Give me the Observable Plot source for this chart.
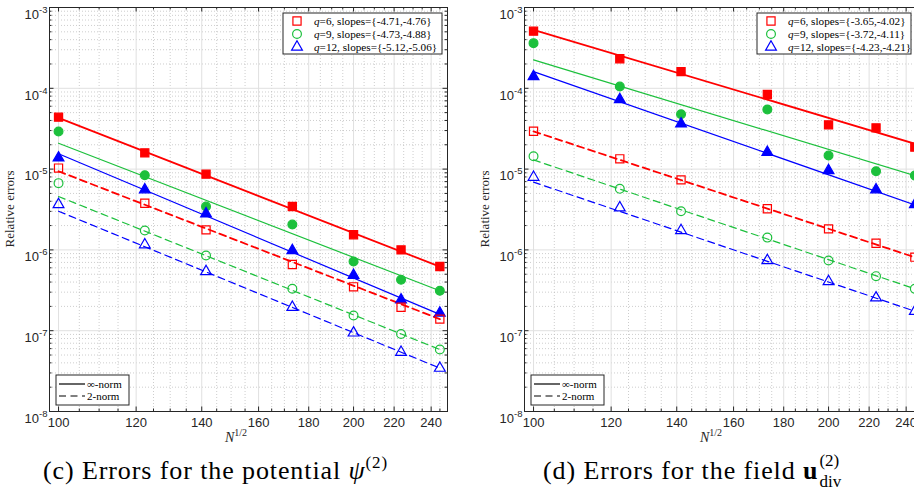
<!DOCTYPE html>
<html><head><meta charset="utf-8">
<script src="https://cdn.jsdelivr.net/npm/d3@7"></script>
<script src="https://cdn.jsdelivr.net/npm/@observablehq/plot@0.6"></script>
<style>
body{margin:0;background:#fff;}
#wrap{position:relative;width:914px;height:497px;overflow:hidden;background:#fff;}
.panel{position:absolute;top:0;}
#overlay{position:absolute;left:0;top:0;pointer-events:none;}
</style></head><body><div id="wrap"></div><script>
// x values: N^{1/2}
const N = [100, 122.47, 141.42, 173.21, 200, 223.61, 244.95];
const fitN = [100, 244.95];
const xMajor = [100, 120, 140, 160, 180, 200, 220, 240];
const xMinor = [105, 110, 115, 125, 130, 135, 145, 150, 155, 165, 170, 175, 185, 190, 195, 205, 210, 215, 225, 230, 235, 245];
const yMajor = [1e-8, 1e-7, 1e-6, 1e-5, 1e-4, 1e-3];
const yMinor = [];
for (const d of [1e-8, 1e-7, 1e-6, 1e-5, 1e-4]) for (let k = 2; k <= 9; k++) yMinor.push(d * k);

// panel (c): errors for the potential
const cInf6  = [4.39e-5, 1.59e-5, 8.65e-6, 3.44e-6, 1.54e-6, 1.0e-6, 6.23e-7];
const cInf9  = [2.92e-5, 8.41e-6, 3.44e-6, 2.06e-6, 7.18e-7, 4.27e-7, 3.12e-7];
const cInf12 = [1.38e-5, 5.55e-6, 2.8e-6, 9.84e-7, 4.86e-7, 2.41e-7, 1.66e-7];
const cTwo6  = [1.03e-5, 3.78e-6, 1.77e-6, 6.59e-7, 3.49e-7, 1.95e-7, 1.39e-7];
const cTwo9  = [6.7e-6, 1.74e-6, 8.53e-7, 3.3e-7, 1.54e-7, 9.1e-8, 5.85e-8];
const cTwo12 = [3.65e-6, 1.16e-6, 5.4e-7, 1.95e-7, 9.4e-8, 5.42e-8, 3.44e-8];
const cInf6Fit  = [4.3e-5, 6.2e-7];
const cInf9Fit  = [2.09e-5, 3.12e-7];
const cInf12Fit = [1.55e-5, 1.59e-7];
const cTwo6Fit  = [9.4e-6, 1.39e-7];
const cTwo9Fit  = [4.58e-6, 5.85e-8];
const cTwo12Fit = [3.01e-6, 3.44e-8];
const cSlopes = ["{-4.71,-4.76}", "{-4.73,-4.88}", "{-5.12,-5.06}"];

// panel (d): errors for the field
const dInf6  = [5.09e-4, 2.32e-4, 1.61e-4, 8.38e-5, 3.53e-5, 3.24e-5, 1.87e-5];
const dInf9  = [3.62e-4, 1.05e-4, 4.78e-5, 5.47e-5, 1.47e-5, 9.42e-6, 8.33e-6];
const dInf12 = [1.4e-4, 7.27e-5, 3.63e-5, 1.62e-5, 9.6e-6, 5.55e-6, 3.65e-6];
const dTwo6  = [2.94e-5, 1.34e-5, 7.36e-6, 3.23e-6, 1.82e-6, 1.21e-6, 8.13e-7];
const dTwo9  = [1.44e-5, 5.7e-6, 3.01e-6, 1.42e-6, 7.4e-7, 4.73e-7, 3.3e-7];
const dTwo12 = [7.94e-6, 3.32e-6, 1.74e-6, 7.4e-7, 4.06e-7, 2.55e-7, 1.74e-7];
const dInf6Fit  = [5.3e-4, 2.06e-5];
const dInf9Fit  = [2.25e-4, 8.3e-6];
const dInf12Fit = [1.61e-4, 3.6e-6];
const dTwo6Fit  = [2.93e-5, 8.1e-7];
const dTwo9Fit  = [1.3e-5, 3.3e-7];
const dTwo12Fit = [6.89e-6, 1.74e-7];
const dSlopes = ["{-3.65,-4.02}", "{-3.72,-4.11}", "{-4.23,-4.21}"];

const qs = [6, 9, 12];
const normLabels = ["\u221E-norm", "2-norm"];

const colors = {6: "#ff0000", 9: "#1cc03c", 12: "#0000ff"};
const symbols = {6: "square", 9: "circle", 12: "triangle"};
const radii = {6: 4.6, 9: 4.4, 12: 4.0};
const AX = "#262626";
const SERIF = "'Liberation Serif','DejaVu Serif',serif";
const SANS = "'Liberation Sans',Arial,sans-serif";

const seriesC = [
  {q: 6, norm: "inf", vals: cInf6, fit: cInf6Fit}, {q: 9, norm: "inf", vals: cInf9, fit: cInf9Fit}, {q: 12, norm: "inf", vals: cInf12, fit: cInf12Fit},
  {q: 6, norm: "two", vals: cTwo6, fit: cTwo6Fit}, {q: 9, norm: "two", vals: cTwo9, fit: cTwo9Fit}, {q: 12, norm: "two", vals: cTwo12, fit: cTwo12Fit}
];
const seriesD = [
  {q: 6, norm: "inf", vals: dInf6, fit: dInf6Fit}, {q: 9, norm: "inf", vals: dInf9, fit: dInf9Fit}, {q: 12, norm: "inf", vals: dInf12, fit: dInf12Fit},
  {q: 6, norm: "two", vals: dTwo6, fit: dTwo6Fit}, {q: 9, norm: "two", vals: dTwo9, fit: dTwo9Fit}, {q: 12, norm: "two", vals: dTwo12, fit: dTwo12Fit}
];

const W = 475, H = 445, mL = 49, mR = 28, mT = 7, mB = 34;
const PH = H - mT - mB, PW = W - mL - mR;

function panel(series) {
  const marks = [
    Plot.ruleX(xMinor, {stroke: "#b8b8b8", strokeDasharray: "1,2", strokeWidth: 0.7}),
    Plot.ruleY(yMinor, {stroke: "#b8b8b8", strokeDasharray: "1,2", strokeWidth: 0.7}),
    Plot.ruleX(xMajor, {stroke: "#e0e0e0", strokeWidth: 1}),
    Plot.ruleY(yMajor, {stroke: "#e0e0e0", strokeWidth: 1})
  ];
  for (const s of series) {
    marks.push(Plot.line(fitN.map((n, i) => ({n, v: s.fit[i]})), {
      x: "n", y: "v", stroke: colors[s.q], strokeWidth: s.q === 6 ? 1.8 : 1.2,
      strokeDasharray: s.norm === "two" ? "7,4.5" : null
    }));
  }
  for (const s of series) {
    marks.push(Plot.dot(N.map((n, i) => ({n, v: s.vals[i]})), {
      x: "n", y: "v", symbol: symbols[s.q], r: radii[s.q],
      fill: s.norm === "inf" ? colors[s.q] : "none", stroke: colors[s.q], strokeWidth: 1.2
    }));
  }
  // inward ticks on all four sides
  marks.push(
    Plot.ruleX(xMajor, {insetTop: PH - 4.5, stroke: AX}),
    Plot.ruleX(xMajor, {insetBottom: PH - 4.5, stroke: AX}),
    Plot.ruleX(xMinor, {insetTop: PH - 2.5, stroke: AX}),
    Plot.ruleX(xMinor, {insetBottom: PH - 2.5, stroke: AX}),
    Plot.ruleY(yMajor, {insetRight: PW - 4.5, stroke: AX}),
    Plot.ruleY(yMajor, {insetLeft: PW - 4.5, stroke: AX}),
    Plot.ruleY(yMinor, {insetRight: PW - 2.5, stroke: AX}),
    Plot.ruleY(yMinor, {insetLeft: PW - 2.5, stroke: AX}),
    Plot.frame({stroke: AX, strokeWidth: 1}),
    Plot.axisX(xMajor, {tickSize: 0, tickPadding: 6, fontSize: 13, fill: AX, label: null, tickFormat: d => String(d)}),
    Plot.axisY(yMajor, {tickSize: 0, tickPadding: 2, fontSize: 13, fill: AX, label: null, tickFormat: d => "10^" + Math.round(Math.log10(d))})
  );
  const svg = Plot.plot({
    width: W, height: H, marginLeft: mL, marginRight: mR, marginTop: mT, marginBottom: mB,
    x: {type: "log", domain: [97.9, 249.4]},
    y: {type: "log", domain: [1e-8, 1e-3]},
    style: {fontFamily: SANS, background: "transparent", overflow: "visible"},
    marks
  });
  // superscript exponents on y tick labels
  svg.querySelectorAll('[aria-label="y-axis tick label"] text').forEach(t => {
    const parts = t.textContent.split("^");
    t.textContent = "";
    const a = document.createElementNS("http://www.w3.org/2000/svg", "tspan");
    a.textContent = parts[0];
    const b = document.createElementNS("http://www.w3.org/2000/svg", "tspan");
    b.textContent = parts[1];
    b.setAttribute("dy", "-6");
    b.setAttribute("font-size", "9.5");
    t.appendChild(a); t.appendChild(b);
    t.setAttribute("dy", "0.55em");
  });
  const g = d3.select(svg);
  g.append("text").attr("transform", `translate(14,${mT + PH / 2}) rotate(-90)`)
    .attr("text-anchor", "middle").attr("font-family", SERIF).attr("font-size", 13).attr("fill", AX)
    .text("Relative errors");
  const xl = g.append("text").attr("x", 236).attr("y", 442).attr("font-family", SERIF).attr("fill", AX);
  xl.append("tspan").attr("font-style", "italic").attr("font-size", 14).text("N");
  xl.append("tspan").attr("font-size", 10).attr("dy", -6).text("1/2");
  return svg;
}

const wrap = document.getElementById("wrap");
const p1 = panel(seriesC); p1.classList.add("panel"); p1.style.left = "0px"; wrap.appendChild(p1);
const p2 = panel(seriesD); p2.classList.add("panel"); p2.style.left = "475px"; wrap.appendChild(p2);

// overlay: legends and captions
const ov = d3.select(wrap).append("svg").attr("id", "overlay").attr("width", 914).attr("height", 497);

function symbolPath(q) {
  const sym = {square: d3.symbolSquare, circle: d3.symbolCircle, triangle: d3.symbolTriangle}[symbols[q]];
  return d3.symbol(sym, radii[q] * radii[q] * Math.PI)();
}

function qLegend(x0, y0, w, slopes) {
  const g = ov.append("g").attr("transform", `translate(${x0},${y0})`);
  g.append("rect").attr("width", w).attr("height", 41).attr("fill", "white").attr("stroke", AX).attr("stroke-width", 1);
  qs.forEach((q, i) => {
    const cy = 8 + i * 13;
    g.append("path").attr("d", symbolPath(q)).attr("transform", `translate(14,${cy})`)
      .attr("fill", "none").attr("stroke", colors[q]).attr("stroke-width", 1.2);
    const t = g.append("text").attr("x", 31).attr("y", cy + 3.8).attr("font-family", SERIF).attr("font-size", 11.2).attr("fill", "#000");
    t.append("tspan").attr("font-style", "italic").text("q");
    t.append("tspan").text(`=${q}, slopes=${slopes[i]}`);
  });
}
function normLegend(x0, y0) {
  const g = ov.append("g").attr("transform", `translate(${x0},${y0})`);
  g.append("rect").attr("width", 73).attr("height", 30).attr("fill", "white").attr("stroke", AX).attr("stroke-width", 1);
  normLabels.forEach((lab, i) => {
    const cy = 9 + i * 12;
    g.append("line").attr("x1", 3).attr("x2", 29).attr("y1", cy).attr("y2", cy).attr("stroke", "#000").attr("stroke-width", 1.2)
      .attr("stroke-dasharray", i === 1 ? "7,4.5" : null);
    g.append("text").attr("x", 31).attr("y", cy + 3.8).attr("font-family", SERIF).attr("font-size", 11).attr("fill", "#000").text(lab);
  });
}
qLegend(283, 13, 159, cSlopes);
qLegend(757, 13, 154, dSlopes);
normLegend(56, 375);
normLegend(531, 375);

// captions
const c1 = ov.append("text").attr("x", 43).attr("y", 479).attr("font-family", SERIF).attr("font-size", 26).attr("letter-spacing", "0.9px").attr("fill", "#000");
c1.append("tspan").text("(c) Errors for the potential ");
c1.append("tspan").attr("font-style", "italic").text("\u03C8");
c1.append("tspan").attr("font-size", 17).attr("dy", -11).text("(2)");

const c2 = ov.append("text").attr("x", 543).attr("y", 479).attr("font-family", SERIF).attr("font-size", 26).attr("letter-spacing", "0.9px").attr("fill", "#000");
c2.append("tspan").text("(d) Errors for the field ");
c2.append("tspan").attr("font-weight", "bold").text("u");
const bb = c2.node().getBBox();
const ex = bb.x + bb.width + 1;
ov.append("text").attr("x", ex).attr("y", 466).attr("font-family", SERIF).attr("font-size", 17).attr("fill", "#000").text("(2)");
ov.append("text").attr("x", ex).attr("y", 487).attr("font-family", SERIF).attr("font-size", 17).attr("fill", "#000").text("div");
</script></body></html>
